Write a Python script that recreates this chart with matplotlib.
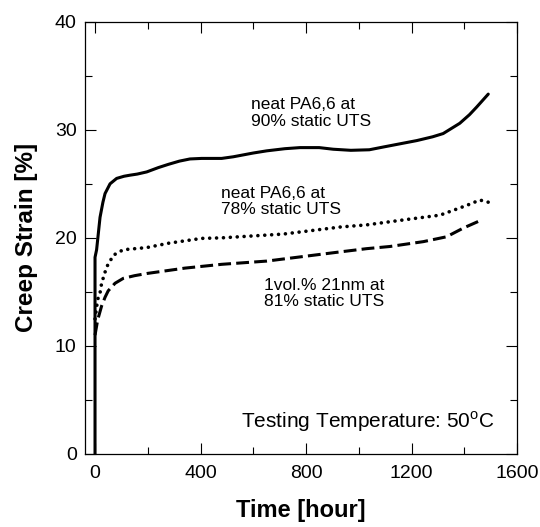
import matplotlib
matplotlib.use("Agg")
import matplotlib.pyplot as plt
from matplotlib.ticker import MultipleLocator

plt.rcParams['font.family'] = ['Liberation Sans', 'DejaVu Sans']
plt.rcParams['mathtext.fontset'] = 'custom'
plt.rcParams['mathtext.rm'] = 'Liberation Sans'

# neat PA6,6 at 90% static UTS (solid)
solid_t = [0, 0, 6, 19, 30, 38, 57, 82, 110, 133, 160, 196, 240, 278, 320, 360, 404, 480,
           524, 600, 651, 720, 777, 850, 903, 970, 1040, 1092, 1156, 1220, 1280, 1320,
           1383, 1420, 1447, 1491]
solid_y = [0, 18.2, 18.9, 21.9, 23.3, 24.1, 25.0, 25.5, 25.7, 25.8, 25.9, 26.1, 26.5,
           26.8, 27.1, 27.3, 27.35, 27.35, 27.5, 27.85, 28.05, 28.25, 28.35, 28.35, 28.2,
           28.1, 28.15, 28.4, 28.7, 29.0, 29.35, 29.65, 30.6, 31.4, 32.1, 33.3]

# neat PA6,6 at 78% static UTS (dotted)
dotted_t = [0, 10, 19, 25, 44, 70, 107, 152, 196, 278, 404, 480, 714, 929, 1030, 1182,
            1308, 1409, 1459, 1491]
dotted_y = [12.5, 14.3, 14.9, 15.8, 17.3, 18.4, 18.9, 19.0, 19.1, 19.5, 19.95, 20.0,
            20.35, 21.0, 21.2, 21.7, 22.1, 23.0, 23.5, 23.3]

# 1vol.% 21nm at 81% static UTS (dashed)
dashed_t = [0, 10, 25, 38, 50, 76, 107, 150, 196, 341, 480, 651, 929, 1030, 1118, 1245,
            1333, 1396, 1470]
dashed_y = [11.0, 12.4, 13.7, 14.5, 15.1, 15.8, 16.25, 16.5, 16.7, 17.2, 17.55, 17.85,
            18.7, 19.0, 19.2, 19.65, 20.1, 20.9, 21.7]

xticks = [0, 400, 800, 1200, 1600]
yticks = [0, 10, 20, 30, 40]

fig = plt.figure(figsize=(5.40, 5.27), dpi=100)
ax = fig.add_axes([85/540, 1-454/527, (517-85)/540, (454-21.7)/527])

ax.plot(solid_t, solid_y, color='black', lw=2.2, ls='-', solid_joinstyle='round',
        solid_capstyle='round')
ax.plot(dotted_t, dotted_y, color='black', lw=2.6, ls=(0, (0.01, 1.9)),
        dash_capstyle='round')
ax.plot(dashed_t, dashed_y, color='black', lw=2.2, ls=(0, (4.2, 1.7)))

ax.set_xlim(-38, 1600)
ax.set_ylim(0, 40)
ax.set_xticks(xticks)
ax.set_yticks(yticks)
ax.xaxis.set_minor_locator(MultipleLocator(200))
ax.yaxis.set_minor_locator(MultipleLocator(5))
ax.tick_params(which='both', direction='in', top=True, right=True, labelsize=14,
               width=0.8)
ax.tick_params(axis='x', pad=8)
ax.tick_params(axis='y', pad=6)
ax.tick_params(which='major', length=8)
ax.tick_params(which='minor', length=5)
for s in ax.spines.values():
    s.set_linewidth(0.9)

ax.set_xlabel('Time [hour]', fontsize=17, fontweight='bold', labelpad=12)
ax.set_ylabel('Creep Strain [%]', fontsize=17.5, fontweight='bold', labelpad=12)

fs = 12.5
ax.text(590, 33.0, 'neat PA6,6 at\n90% static UTS', fontsize=fs, va='top', ha='left',
        linespacing=1.1)
ax.text(478, 24.8, 'neat PA6,6 at\n78% static UTS', fontsize=fs, va='top', ha='left',
        linespacing=1.1)
ax.text(640, 16.3, '1vol.% 21nm at\n81% static UTS', fontsize=fs, va='top', ha='left',
        linespacing=1.1)
ax.text(552, 2.4, 'Testing Temperature: 50$^{\\mathrm{o}}$C', fontsize=15,
        va='baseline', ha='left')

fig.savefig('out.png', dpi=100)
